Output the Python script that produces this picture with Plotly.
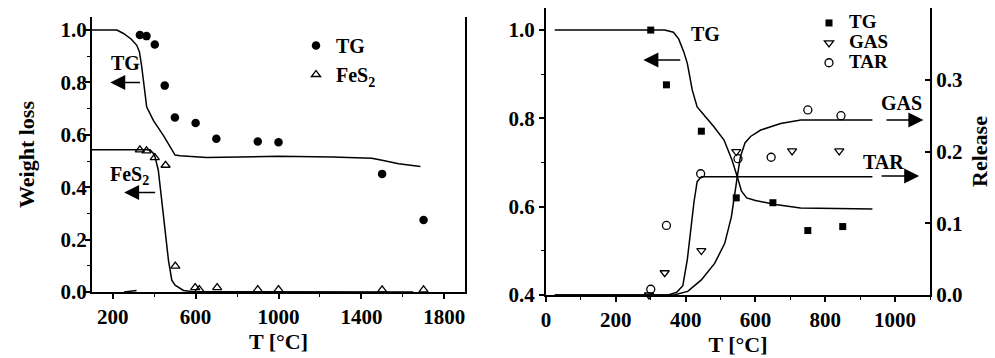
import plotly.graph_objects as go

# ---------------- Left panel data ----------------
tg_T = [331, 363, 403, 451, 500, 600, 700, 900, 1000, 1500, 1700]
tg_w = [0.981, 0.977, 0.945, 0.788, 0.666, 0.645, 0.585, 0.575, 0.572, 0.451, 0.275]

fes2_T = [331, 363, 403, 455, 502, 598, 618, 704, 900, 1000, 1500, 1700]
fes2_w = [0.543, 0.539, 0.513, 0.484, 0.099, 0.017, 0.009, 0.017, 0.009, 0.009, 0.008, 0.008]

tg_sim_T = [100, 220, 252, 290, 316, 329, 340, 356, 364, 396, 445, 501, 525, 653, 1000, 1260, 1450, 1500, 1580, 1685]
tg_sim_w = [1.0, 1.0, 0.987, 0.965, 0.942, 0.917, 0.86, 0.744, 0.706, 0.655, 0.597, 0.523, 0.52, 0.514, 0.518, 0.515, 0.511, 0.503, 0.49, 0.479]

fes2_sim_T = [100, 380, 395, 404, 420, 437, 453, 469, 485, 501, 541, 589, 1650]
fes2_sim_w = [0.543, 0.543, 0.53, 0.516, 0.465, 0.35, 0.223, 0.121, 0.045, 0.026, 0.006, 0.001, 0.0]

stub_T = [255, 315]
stub_w = [0.0, 0.006]

left_xticks = [200, 600, 1000, 1400, 1800]
left_yticks = [0.0, 0.2, 0.4, 0.6, 0.8, 1.0]

# ---------------- Right panel data ----------------
r_tg_T = [300, 345, 445, 545, 650, 750, 850]
r_tg_w = [1.0, 0.876, 0.771, 0.62, 0.609, 0.546, 0.555]

gas_T = [295, 340, 445, 545, 705, 840]
gas_r = [0.0, 0.031, 0.062, 0.200, 0.201, 0.201]

tar_T = [300, 345, 443, 550, 645, 750, 845]
tar_r = [0.008, 0.097, 0.169, 0.19, 0.192, 0.258, 0.250]

r_tg_sim_T = [25, 340, 365, 380, 395, 405, 419, 433, 452, 481, 510, 533, 548, 560, 575, 600, 657, 729, 935]
r_tg_sim_w = [1.0, 1.0, 0.995, 0.98, 0.95, 0.924, 0.864, 0.826, 0.808, 0.781, 0.751, 0.705, 0.668, 0.635, 0.62, 0.614, 0.605, 0.597, 0.595]

tar_sim_T = [25, 350, 375, 392, 405, 414, 424, 433, 445, 935]
tar_sim_r = [0.0, 0.0, 0.004, 0.013, 0.05, 0.088, 0.13, 0.158, 0.165, 0.165]

gas_sim_T = [25, 366, 406, 445, 483, 512, 531, 541, 548, 557, 570, 586, 615, 672, 730, 935]
gas_sim_r = [0.0, 0.0, 0.005, 0.021, 0.044, 0.072, 0.109, 0.146, 0.165, 0.193, 0.212, 0.221, 0.230, 0.239, 0.244, 0.244]

right_xticks = [0, 200, 400, 600, 800, 1000]
right_yticks = [0.4, 0.6, 0.8, 1.0]
release_ticks = [0.0, 0.1, 0.2, 0.3, 0.4]

FONT = "Liberation Serif"
BLACK = "black"
W, H = 995, 358

fig = go.Figure()

line_style = dict(color=BLACK, width=1.5)

# left panel lines
fig.add_trace(go.Scatter(x=tg_sim_T, y=tg_sim_w, mode="lines", line=line_style,
                         showlegend=False, xaxis="x", yaxis="y"))
fig.add_trace(go.Scatter(x=fes2_sim_T, y=fes2_sim_w, mode="lines", line=line_style,
                         showlegend=False, xaxis="x", yaxis="y"))
fig.add_trace(go.Scatter(x=stub_T, y=stub_w, mode="lines", line=line_style,
                         showlegend=False, xaxis="x", yaxis="y", cliponaxis=False))
# left panel markers
fig.add_trace(go.Scatter(x=tg_T, y=tg_w, mode="markers", name="TG",
                         marker=dict(symbol="circle", size=8.5, color=BLACK),
                         xaxis="x", yaxis="y", legend="legend", cliponaxis=False))
fig.add_trace(go.Scatter(x=fes2_T, y=fes2_w, mode="markers", name="FeS<sub>2</sub>",
                         marker=dict(symbol="triangle-up-open", size=8, color=BLACK,
                                     line=dict(width=1.3, color=BLACK)),
                         xaxis="x", yaxis="y", legend="legend", cliponaxis=False))

# right panel lines
fig.add_trace(go.Scatter(x=r_tg_sim_T, y=r_tg_sim_w, mode="lines", line=line_style,
                         showlegend=False, xaxis="x2", yaxis="y2"))
fig.add_trace(go.Scatter(x=tar_sim_T, y=tar_sim_r, mode="lines", line=line_style,
                         showlegend=False, xaxis="x2", yaxis="y3"))
fig.add_trace(go.Scatter(x=gas_sim_T, y=gas_sim_r, mode="lines", line=line_style,
                         showlegend=False, xaxis="x2", yaxis="y3"))
# right panel markers
LEG2 = "<span style='font-size:19px'>%s</span>"
fig.add_trace(go.Scatter(x=r_tg_T, y=r_tg_w, mode="markers", name=LEG2 % "TG",
                         marker=dict(symbol="square", size=7, color=BLACK),
                         xaxis="x2", yaxis="y2", legend="legend2", cliponaxis=False))
fig.add_trace(go.Scatter(x=gas_T, y=gas_r, mode="markers", name=LEG2 % "GAS",
                         marker=dict(symbol="triangle-down-open", size=8, color=BLACK,
                                     line=dict(width=1.3, color=BLACK)),
                         xaxis="x2", yaxis="y3", legend="legend2", cliponaxis=False))
fig.add_trace(go.Scatter(x=tar_T, y=tar_r, mode="markers", name=LEG2 % "TAR",
                         marker=dict(symbol="circle-open", size=8, color=BLACK,
                                     line=dict(width=1.3, color=BLACK)),
                         xaxis="x2", yaxis="y3", legend="legend2", cliponaxis=False))

tickfont = dict(family=FONT, size=21, color=BLACK, weight="bold")
titlefont = dict(family=FONT, size=22, color=BLACK, weight="bold")


def bold_ticks(vals, fmt):
    return dict(tickmode="array", tickvals=vals,
                ticktext=["<b>" + fmt.format(v) + "</b>" for v in vals])


axis_common = dict(showline=True, linecolor=BLACK, linewidth=2, showgrid=False,
                   zeroline=False, ticks="outside", ticklen=5, tickwidth=1.5,
                   tickcolor=BLACK, tickfont=tickfont, automargin=False)


def minor(dtick, tick0=0, ticks="outside"):
    return dict(tickmode="linear", dtick=dtick, tick0=tick0, ticks=ticks,
                ticklen=3, tickwidth=1.2, tickcolor=BLACK)


fig.update_layout(
    width=W, height=H,
    margin=dict(l=0, r=0, t=0, b=0, autoexpand=False),
    paper_bgcolor="white", plot_bgcolor="white",
    font=dict(family=FONT, color=BLACK),
    xaxis=dict(domain=[92 / W, 465 / W], range=[100, 1900], anchor="y",
               minor=minor(200),
               title=dict(text="<b>T [°C]</b>", font=titlefont, standoff=0),
               ticklabelstandoff=0, **bold_ticks(left_xticks, "{:d}"), **axis_common),
    yaxis=dict(domain=[1 - 292 / H, 1 - 17 / H], range=[0, 1.05], anchor="x",
               mirror=True, minor=minor(0.1), ticklabelstandoff=-6,
               title=dict(text="<b>Weight loss</b>", font=titlefont, standoff=20),
               **bold_ticks(left_yticks, "{:.1f}"), **axis_common),
    xaxis2=dict(domain=[546 / W, 930 / W], range=[0, 1100], anchor="y2",
                minor=minor(100),
                title=dict(text="<b>T [°C]</b>", font=titlefont, standoff=0),
                ticklabelstandoff=0, **bold_ticks(right_xticks, "{:d}"), **axis_common),
    yaxis2=dict(domain=[1 - 295 / H, 1 - 8 / H], range=[0.4, 1.05], anchor="x2",
                minor=minor(0.1),
                **bold_ticks(right_yticks, "{:.1f}"), **axis_common),
    yaxis3=dict(range=[0, 0.4001], overlaying="y2", anchor="x2", side="right",
                showline=True, linecolor=BLACK, linewidth=2, showgrid=False,
                zeroline=False, ticks="inside", ticklen=5, tickwidth=1.5,
                tickcolor=BLACK, tickfont=tickfont, automargin=False,
                **bold_ticks(release_ticks, "{:.1f}"),
                title=dict(text="<b>Release</b>", font=titlefont, standoff=10)),
    legend=dict(x=296 / W, y=1 - 26 / H, xanchor="left", yanchor="top",
                bgcolor="rgba(0,0,0,0)", borderwidth=0,
                font=dict(family=FONT, size=20, color=BLACK, weight="bold")),
    legend2=dict(x=809 / W, y=1 - 8 / H, xanchor="left", yanchor="top",
                 bgcolor="rgba(0,0,0,0)", borderwidth=0,
                 font=dict(family=FONT, size=13, color=BLACK, weight="bold")),
    showlegend=True,
)

ann_font = dict(family=FONT, size=20, color=BLACK, weight="bold")
big_font = dict(family=FONT, size=20, color=BLACK, weight="bold")


def label(text, x, y, xref, yref, font):
    fig.add_annotation(text="<b>" + text + "</b>", x=x, y=y, xref=xref, yref=yref,
                       showarrow=False, font=font)


def arrow(x_head, x_tail, y, xref, yref):
    fig.add_annotation(text="", x=x_head, y=y, ax=x_tail, ay=y,
                       xref=xref, yref=yref, axref=xref, ayref=yref,
                       showarrow=True, arrowhead=2, arrowsize=2,
                       arrowwidth=1.5, arrowcolor=BLACK)


# left panel labels & arrows
label("TG", 260, 0.873, "x", "y", ann_font)
arrow(188, 339, 0.80, "x", "y")
label("FeS<sub>2</sub>", 283, 0.446, "x", "y", ann_font)
arrow(255, 412, 0.38, "x", "y")

# right panel labels & arrows
label("TG", 457, 0.99, "x2", "y2", ann_font)
arrow(279, 389, 0.932, "x2", "y2")
label("GAS", 1019, 0.267, "x2", "y3", big_font)
arrow(1081, 971, 0.244, "x2", "y3")
label("TAR", 967, 0.186, "x2", "y3", big_font)
arrow(1069, 957, 0.166, "x2", "y3")

fig.write_html("out.html",
               config={"displayModeBar": False},
               post_script="document.body.style.margin='0';document.body.style.padding='0';")
